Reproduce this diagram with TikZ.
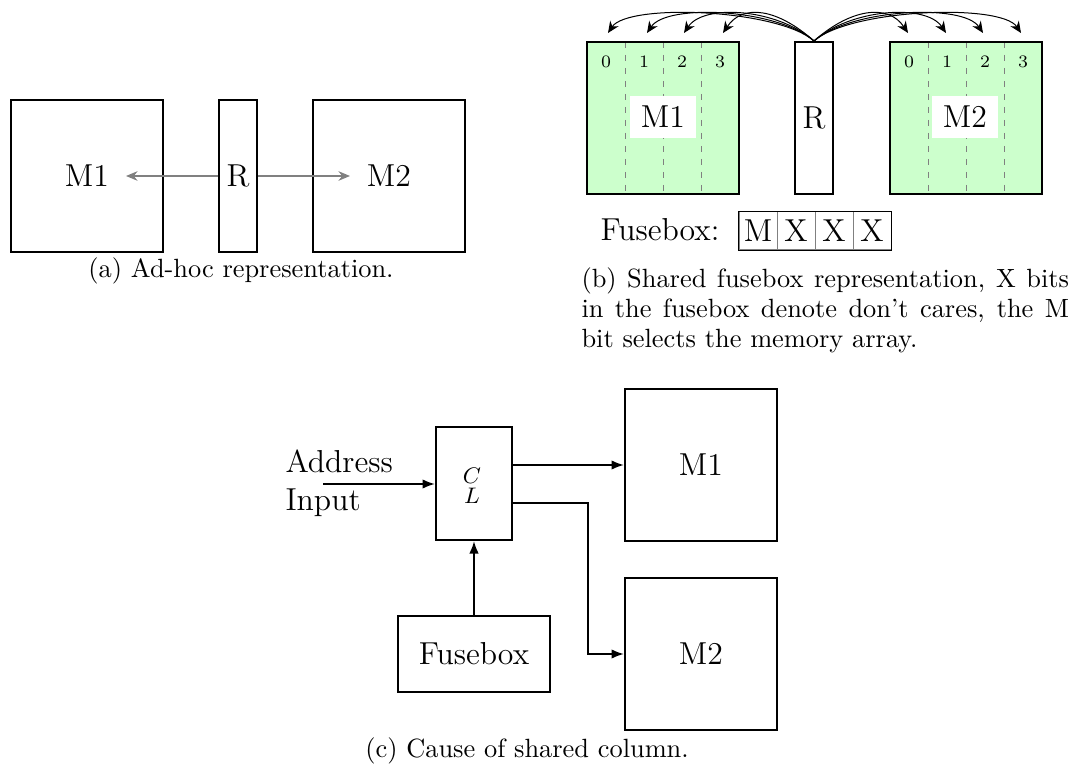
\documentclass[tikz,border=0pt]{standalone}
\usetikzlibrary{arrows.meta,calc}
\definecolor{memgreen}{RGB}{204,255,204}
\begin{document}
\begin{tikzpicture}[x=0.4pt,y=-0.4pt,
  lbl/.style={font=\fontsize{12.7}{15.2}\selectfont},
  captxt/.style={font=\fontsize{10.55}{12}\selectfont, inner sep=0pt, anchor=base},
  box/.style={draw, line width=0.8pt, inner sep=0pt, lbl},
  membox/.style={box, minimum width=60.8pt, minimum height=60.8pt},
  regbox/.style={box, minimum width=15.2pt, minimum height=60.8pt},
  grayarrow/.style={draw=gray, line width=0.8pt, -{Stealth[length=4.6pt,width=3.8pt]}},
  bitarrow/.style={draw=black, line width=0.4pt, -{Stealth[length=4.6pt,width=4pt]}},
  blkarrow/.style={draw=black, line width=0.8pt, -{Latex[length=5pt,width=3.8pt]}},
  colsep/.style={draw=gray, line width=0.4pt, dash pattern=on 2.4pt off 2.8pt},
  bitnum/.style={font=\fontsize{7}{7}\selectfont, inner sep=0pt},
  whitelbl/.style={fill=white, inner sep=0pt, minimum width=26.4pt, minimum height=16.8pt, lbl},
  cell/.style={draw=gray, line width=0.4pt, inner sep=0pt, minimum width=15.2pt, minimum height=15.2pt, lbl}
]
\useasboundingbox (0,0) rectangle (1072,772);

% ---------------- (a)
\node[membox] (aM1) at (87,176) {M1};
\node[regbox] (aR) at (238,176) {R};
\node[membox] (aM2) at (389,176) {M2};
\coordinate (aT1) at (126,176);
\coordinate (aT2) at (350,176);
\draw[grayarrow] (aR.west) -- (aT1);
\draw[grayarrow] (aR.east) -- (aT2);
\node[captxt] (acap) at (241,277) {(a) Ad-hoc representation.};

% ---------------- (b)
\fill[memgreen] (587,42) rectangle (739,194);
\fill[memgreen] (890,42) rectangle (1042,194);
\foreach \x in {625,663,701,928,966,1004}
  \draw[colsep] (\x,42) -- (\x,194);
\node[membox] (bM1) at (663,118) {};
\node[regbox] (bR) at (814,118) {R};
\node[membox] (bM2) at (966,118) {};
\node[whitelbl] (bM1l) at (663,117) {M1};
\node[whitelbl] (bM2l) at (965,117) {M2};
\foreach \i/\x in {0/606,1/644,2/682,3/720}
  \node[bitnum] (bn1\i) at (\x,62) {\i};
\foreach \i/\x in {0/909,1/947,2/985,3/1023}
  \node[bitnum] (bn2\i) at (\x,62) {\i};
% arrows from R to the bit columns
\foreach \i/\x in {0/608,1/647,2/684,3/723}{
  \coordinate (tl\i) at (\x,33);
  \draw[bitarrow] (bR.north) .. controls +(-36,-32) and +(20,-30) .. (tl\i);
}
\foreach \i/\x in {0/908,1/946,2/983,3/1021}{
  \coordinate (tr\i) at (\x,33);
  \draw[bitarrow] (bR.north) .. controls +(36,-32) and +(-20,-30) .. (tr\i);
}
% fusebox row
\node[lbl, anchor=base east, inner sep=0pt] (fblab) at (720,241) {Fusebox:};
\node[cell] (fb0) at (758,231) {M};
\node[cell] (fb1) at (796,231) {X};
\node[cell] (fb2) at (834,231) {X};
\node[cell] (fb3) at (872,231) {X};
\draw[line width=0.4pt] (fb0.north west) rectangle (fb3.south east);
% caption (b)
\node[captxt, anchor=base west] (bcap1) at (581,287) {\makebox[195pt][s]{(b) Shared fusebox representation, X bits}};
\node[captxt, anchor=base west] (bcap2) at (581,317) {\makebox[195pt][s]{in the fusebox denote don't cares, the M}};
\node[captxt, anchor=base west] (bcap3) at (581,347) {bit selects the memory array.};

% ---------------- (c)
\node[box, minimum width=30.4pt, minimum height=45.2pt] (cCL) at (474,483.5) {};
\node[font=\fontsize{9.5}{8.2}\selectfont, align=center, inner sep=0pt] (cCLt) at (472,486) {$C$\\$L$};
\node[membox] (cM1) at (701,465) {M1};
\node[membox] (cM2) at (701,654) {M2};
\node[box, minimum width=60.8pt, minimum height=30.4pt] (cFB) at (474,654) {Fusebox};
\node[lbl, anchor=base west, inner sep=0pt] (cAddr) at (285,472) {Address};
\node[lbl, anchor=base west, inner sep=0pt] (cInp) at (285,510) {Input};
\coordinate (cIn) at (323,484);
\draw[blkarrow] (cIn) -- (cIn -| cCL.west);
\draw[blkarrow] (cM1.west -| cCL.east) -- (cM1.west);
\draw[blkarrow] ([yshift=-7.6pt]cCL.east) -- ++(75,0) |- (cM2.west);
\draw[blkarrow] (cFB.north) -- (cCL.south);
\node[captxt] (ccap) at (527,757) {(c) Cause of shared column.};
\end{tikzpicture}
\end{document}
